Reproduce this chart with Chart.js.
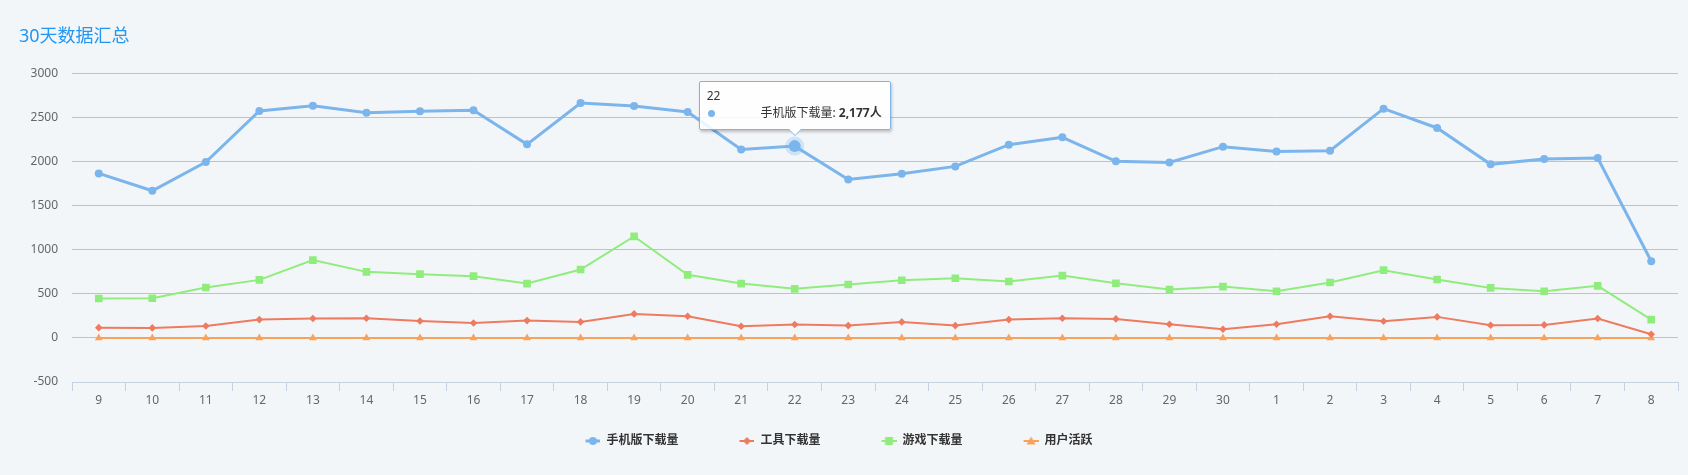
<!DOCTYPE html>
<html>
<head>
<meta charset="utf-8">
<script src="https://cdn.jsdelivr.net/npm/chart.js@4.4.0/dist/chart.umd.min.js"></script>
<style>
html,body{margin:0;padding:0;background:#f3f6f9;}
#wrap{position:relative;width:1688px;height:475px;}
#tip{position:absolute;box-sizing:border-box;width:192px;height:49px;background:rgba(255,255,255,0.86);border:1px solid #7cb5ec;box-shadow:1px 2px 3px rgba(0,0,0,0.22);padding:6px 8px 0 7px;font-family:'Noto Sans','Noto Sans CJK SC',sans-serif;font-size:12px;color:#333;border-radius:2px;display:none;}
#tip .t{line-height:16px;height:16px;}
#tip .row{display:flex;justify-content:space-between;align-items:center;line-height:16px;margin-top:1px;}
#tip .dot{width:7px;height:7px;border-radius:50%;background:#7cb5ec;margin-left:1px;}
#tip b{font-weight:bold;}
#tip .c1,#tip .c2{position:absolute;left:50%;width:0;height:0;border-style:solid;}
#tip .c1{bottom:-7px;margin-left:-7px;border-width:7px 7px 0 7px;border-color:#7cb5ec transparent transparent transparent;}
#tip .c2{bottom:-6px;margin-left:-6px;border-width:6px 6px 0 6px;border-color:#fff transparent transparent transparent;}
</style>
</head>
<body>
<div id="wrap">
<canvas id="c"></canvas>
<div id="tip"><div class="t" id="tipTitle"></div><div class="row"><span class="dot"></span><span id="tipBody"></span></div><span class="c1"></span><span class="c2"></span></div>
</div>
<script>
const titleText = '30天数据汇总';
const categories = ['9','10','11','12','13','14','15','16','17','18','19','20','21','22','23','24','25','26','27','28','29','30','1','2','3','4','5','6','7','8'];
const seriesNames = ['手机版下载量','工具下载量','游戏下载量','用户活跃'];
const phoneDownloads = [1867,1670,1996,2576,2636,2557,2572,2583,2197,2667,2633,2564,2140,2177,1799,1864,1947,2193,2277,2004,1992,2171,2117,2125,2602,2383,1970,2030,2042,871];
const toolDownloads = [117,114,136,208,220,223,193,170,197,182,273,246,133,152,140,182,140,208,223,216,155,98,155,246,189,239,144,148,220,42];
const gameDownloads = [447,451,572,659,883,750,724,701,617,777,1152,716,617,557,606,655,678,640,708,621,549,583,530,629,769,663,568,530,591,208];
const activeUsers = [0,0,0,0,0,0,0,0,0,0,0,0,0,0,0,0,0,0,0,0,0,0,0,0,0,0,0,0,0,0];
const yTicks = {min:-500, max:3000, step:500};
const tooltipCategory = '22';
const tooltipUnit = '人';

const BLUE='#7cb5ec', RED='#ee7b60', GREEN='#90ed7d', ORANGE='#f7a35c';
const FONT="'Noto Sans','Noto Sans CJK SC',sans-serif";
const LEGEND_BOX=66, LEGEND_DX=-35;

function legendIcon(color, shape, lw){
  const W=LEGEND_BOX,H=12,c=document.createElement('canvas');
  c.width=W;c.height=H;
  const x=c.getContext('2d'),cx=W-7.5,cy=H/2;
  x.strokeStyle=color;x.lineWidth=lw;x.beginPath();x.moveTo(W-15,cy);x.lineTo(W,cy);x.stroke();
  x.fillStyle=color;x.beginPath();
  if(shape==='circle')x.arc(cx,cy,4,0,Math.PI*2);
  else if(shape==='square')x.rect(cx-4,cy-4,8,8);
  else if(shape==='diamond'){x.moveTo(cx,cy-4);x.lineTo(cx+4,cy);x.lineTo(cx,cy+4);x.lineTo(cx-4,cy);x.closePath();}
  else{x.moveTo(cx,cy-4.5);x.lineTo(cx+4.5,cy+3.5);x.lineTo(cx-4.5,cy+3.5);x.closePath();}
  x.fill();
  return c;
}
const legendIcons=[legendIcon(BLUE,'circle',3),legendIcon(RED,'diamond',2),legendIcon(GREEN,'square',2),legendIcon(ORANGE,'triangle',2)];

const legendShift={id:'legendShift',afterLayout(chart){const l=chart.legend;if(l){l.left+=LEGEND_DX;l.right+=LEGEND_DX;}}};
const staticTip={id:'staticTip',afterDraw(chart){
  const idx=categories.indexOf(tooltipCategory);
  const pt=chart.getDatasetMeta(0).data[idx];
  if(!pt)return;
  const tip=document.getElementById('tip');
  document.getElementById('tipTitle').textContent=tooltipCategory;
  document.getElementById('tipBody').innerHTML=seriesNames[0]+': <b>'+phoneDownloads[idx].toLocaleString('en-US')+tooltipUnit+'</b>';
  tip.style.display='block';
  tip.style.left=(pt.x-96)+'px';
  tip.style.top=(pt.y-65)+'px';
}};

const ctx=document.getElementById('c');
const chart=new Chart(ctx,{
  type:'line',
  data:{
    labels:categories,
    datasets:[
      {label:seriesNames[0],data:phoneDownloads,borderColor:BLUE,backgroundColor:BLUE,borderWidth:3,pointStyle:'circle',pointRadius:4,pointBorderWidth:0,pointHoverRadius:6,pointHoverBorderWidth:7,pointHoverBorderColor:'rgba(124,181,236,0.3)',pointHoverBackgroundColor:BLUE,tension:0},
      {label:seriesNames[1],data:toolDownloads,borderColor:RED,backgroundColor:RED,borderWidth:2,pointStyle:'rectRot',pointRadius:3.8,pointBorderWidth:0,tension:0},
      {label:seriesNames[2],data:gameDownloads,borderColor:GREEN,backgroundColor:GREEN,borderWidth:2,pointStyle:'rect',pointRadius:5.4,pointBorderWidth:0,tension:0},
      {label:seriesNames[3],data:activeUsers,borderColor:ORANGE,backgroundColor:ORANGE,borderWidth:2,pointStyle:'triangle',pointRadius:4.5,pointBorderWidth:0,tension:0}
    ]
  },
  options:{
    responsive:true,maintainAspectRatio:false,animation:false,events:[],
    layout:{padding:{left:19,right:10,top:0,bottom:18}},
    plugins:{
      title:{display:true,text:titleText,align:'start',color:'#2196f3',font:{family:FONT,size:18,weight:'normal'},padding:{top:26,bottom:26}},
      legend:{position:'bottom',labels:{usePointStyle:true,pointStyleWidth:LEGEND_BOX,padding:10,color:'#333',font:{family:FONT,size:12,weight:'bold'},
        generateLabels(chart){const items=Chart.defaults.plugins.legend.labels.generateLabels(chart);items.forEach((it,i)=>{it.pointStyle=legendIcons[i];});return items;}}},
      tooltip:{enabled:false}
    },
    scales:{
      x:{offset:true,
        grid:{display:true,drawOnChartArea:false,drawTicks:true,tickLength:9,color:'#c3d1e0',offset:true},
        border:{display:true,color:'#c3d1e0',width:1},
        ticks:{color:'#666',font:{family:FONT,size:12},padding:2,maxRotation:0,autoSkip:false},
        afterFit(s){s.height=43;}
      },
      y:{min:yTicks.min,max:yTicks.max,
        ticks:{stepSize:yTicks.step,color:'#666',font:{family:FONT,size:12},padding:14,callback:(v)=>String(v)},
        grid:{drawTicks:false,color:(c)=>c.tick&&c.tick.value===yTicks.min?'rgba(0,0,0,0)':'#c2c2c2'},
        border:{display:false},
        afterFit(s){s.width=53;}
      }
    }
  },
  plugins:[legendShift,staticTip]
});
const activeIdx=categories.indexOf(tooltipCategory);
chart.setActiveElements([{datasetIndex:0,index:activeIdx}]);
chart.update();
</script>
</body>
</html>
